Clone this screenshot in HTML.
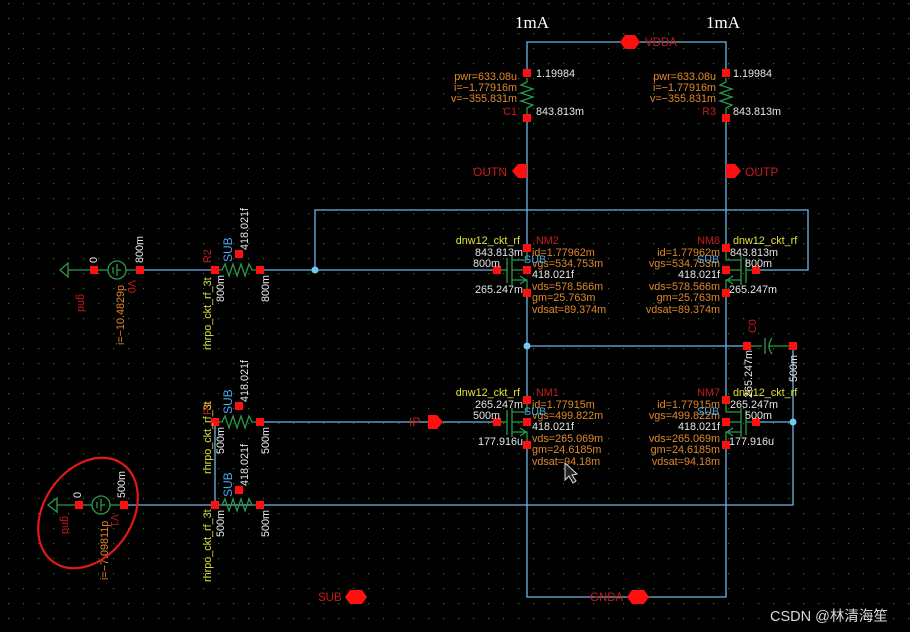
<!DOCTYPE html>
<html><head><meta charset="utf-8"><style>
html,body{margin:0;padding:0;background:#000;}
svg{display:block;}
text{font-family:"Liberation Sans","Noto Sans CJK SC",sans-serif;font-size:10.8px;}
.o{fill:#e0872a}.w{fill:#e6e6e6}.y{fill:#e2e23a}.r{fill:#c81a1a}.b{fill:#4aa6e6}
.big{font-family:"Liberation Serif",serif;font-size:17px;fill:#fff}
</style></head><body>
<svg width="910" height="632" viewBox="0 0 910 632" xmlns="http://www.w3.org/2000/svg">
<defs>
<pattern id="g" x="8" y="3" width="15" height="15" patternUnits="userSpaceOnUse">
<rect x="0" y="0" width="1.2" height="1.2" fill="#1f7a1f"/></pattern>
</defs>
<rect width="910" height="632" fill="#000"/>
<rect width="910" height="632" fill="url(#g)"/>

<g stroke="#6fb4e4" stroke-width="1.3" fill="none">
<polyline points="527,73 527,42 726,42 726,73"/>
<line x1="527" y1="118" x2="527" y2="248"/>
<line x1="726" y1="118" x2="726" y2="248"/>
<line x1="527" y1="293" x2="527" y2="399"/>
<line x1="726" y1="293" x2="726" y2="399"/>
<polyline points="527,445 527,597 726,597 726,445"/>
<polyline points="315,270 315,210 808,210 808,270 756,270"/>
<line x1="140" y1="270" x2="215" y2="270"/>
<line x1="260" y1="270" x2="497" y2="270"/>
<line x1="527" y1="346" x2="747" y2="346"/>
<line x1="260" y1="422" x2="497" y2="422"/>
<polyline points="756,422 793,422"/>
<polyline points="793,346 793,505 124,505"/>
<line x1="215" y1="422" x2="215" y2="505"/>
</g>
<g fill="#6fcaf0"><circle cx="315" cy="270" r="3.5"/><circle cx="527" cy="346" r="3.5"/><circle cx="793" cy="422" r="3.5"/></g>

<g stroke="#2a9a4a" stroke-width="1.3" fill="none">
<polyline points="527,78 527,82 521,85 533,89 521,93 533,97 521,101 533,105 527,108 527,114"/>
<polyline points="726,78 726,82 720,85 732,89 720,93 732,97 720,101 732,105 726,108 726,114"/>
<polyline points="215,270 222,270 225,264 229,276 233,264 237,276 241,264 245,276 249,264 252,270 260,270"/>
<polyline points="215,422 222,422 225,416 229,428 233,416 237,428 241,416 245,428 249,416 252,422 260,422"/>
<polyline points="215,505 222,505 225,499 229,511 233,499 237,511 241,499 245,511 249,499 252,505 260,505"/>
<circle cx="117" cy="270" r="9"/><line x1="94" y1="270" x2="108" y2="270"/><line x1="126" y1="270" x2="140" y2="270"/>
<line x1="113" y1="267" x2="113" y2="273"/><line x1="117" y1="264" x2="117" y2="276"/><line x1="117" y1="270" x2="121" y2="270"/>
<polyline points="94,270 68,270"/><polygon points="68,263 68,277 60,270"/>
<circle cx="101" cy="505" r="9"/><line x1="79" y1="505" x2="92" y2="505"/><line x1="110" y1="505" x2="124" y2="505"/>
<line x1="97" y1="502" x2="97" y2="508"/><line x1="101" y1="499" x2="101" y2="511"/><line x1="101" y1="505" x2="105" y2="505"/>
<polyline points="79,505 57,505"/><polygon points="57,498 57,512 48,505"/>
<line x1="747" y1="346" x2="762" y2="346"/><line x1="765" y1="338" x2="765" y2="354"/>
<path d="M772,338 Q766,346 772,354"/><line x1="769" y1="346" x2="793" y2="346"/>
<g id="t1">
<line x1="497" y1="270" x2="507" y2="270"/><line x1="507" y1="258" x2="507" y2="283"/>
<line x1="512" y1="256" x2="512" y2="285"/>
<polyline points="512,260 527,260 527,248"/><polyline points="512,280 527,280 527,293"/>
<polyline points="520,276 526,280 520,284"/><line x1="512" y1="270" x2="527" y2="270"/>
</g>
<use href="#t1" transform="translate(0,152)"/>
<use href="#t1" transform="translate(1253,0) scale(-1,1)"/>
<use href="#t1" transform="translate(1253,152) scale(-1,1)"/>
</g>

<g fill="#ff1010">
<rect x="523" y="69" width="8" height="8"/><rect x="523" y="114" width="8" height="8"/>
<rect x="722" y="69" width="8" height="8"/><rect x="722" y="114" width="8" height="8"/>
<rect x="523" y="244" width="8" height="8"/><rect x="493" y="266" width="8" height="8"/><rect x="523" y="266" width="8" height="8"/><rect x="523" y="289" width="8" height="8"/>
<rect x="722" y="244" width="8" height="8"/><rect x="752" y="266" width="8" height="8"/><rect x="722" y="266" width="8" height="8"/><rect x="722" y="289" width="8" height="8"/>
<rect x="523" y="396" width="8" height="8"/><rect x="493" y="418" width="8" height="8"/><rect x="523" y="418" width="8" height="8"/><rect x="523" y="441" width="8" height="8"/>
<rect x="722" y="396" width="8" height="8"/><rect x="752" y="418" width="8" height="8"/><rect x="722" y="418" width="8" height="8"/><rect x="722" y="441" width="8" height="8"/>
<rect x="743" y="342" width="8" height="8"/><rect x="789" y="342" width="8" height="8"/>
<rect x="211" y="266" width="8" height="8"/><rect x="256" y="266" width="8" height="8"/><rect x="235" y="250" width="8" height="8"/>
<rect x="211" y="418" width="8" height="8"/><rect x="256" y="418" width="8" height="8"/><rect x="235" y="402" width="8" height="8"/>
<rect x="211" y="501" width="8" height="8"/><rect x="256" y="501" width="8" height="8"/><rect x="235" y="486" width="8" height="8"/>
<rect x="90" y="266" width="8" height="8"/><rect x="136" y="266" width="8" height="8"/>
<rect x="75" y="501" width="8" height="8"/><rect x="120" y="501" width="8" height="8"/>
<polygon points="620,42 625,35 635,35 640,42 635,49 625,49"/>
<polygon points="512,171 518,164 527,164 527,178 518,178"/>
<polygon points="726,164 735,164 741,171 735,178 726,178"/>
<polygon points="428,415 437,415 443,422 437,429 428,429"/>
<polygon points="345,597 350,590 362,590 367,597 362,604 350,604"/>
<polygon points="627,597 632,590 644,590 649,597 644,604 632,604"/>
</g>

<text x="515" y="28" class="big">1mA</text><text x="706" y="28" class="big">1mA</text>
<text x="645" y="46" class="r" style="font-size:11.5px">VDDA</text>
<text x="473" y="176" class="r" style="font-size:12px">OUTN</text>
<text x="745" y="176" class="r" style="font-size:12px">OUTP</text>
<text x="409" y="426" class="r" style="font-size:12px">IP</text>
<text x="318" y="601" class="r" style="font-size:11.5px">SUB</text>
<text x="590" y="601" class="r" style="font-size:11.5px">GNDA</text>

<g text-anchor="end">
<text x="517" y="80" class="o">pwr=633.08u</text><text x="517" y="91" class="o">i=−1.77916m</text><text x="517" y="102" class="o">v=−355.831m</text><text x="517" y="115" class="r">C1</text>
<text x="716" y="80" class="o">pwr=633.08u</text><text x="716" y="91" class="o">i=−1.77916m</text><text x="716" y="102" class="o">v=−355.831m</text><text x="716" y="115" class="r">R3</text>
</g>
<text x="536" y="77" class="w">1.19984</text><text x="536" y="115" class="w">843.813m</text>
<text x="733" y="77" class="w">1.19984</text><text x="733" y="115" class="w">843.813m</text>

<g text-anchor="end">
<text x="520" y="244" class="y">dnw12_ckt_rf</text><text x="523" y="256" class="w">843.813m</text><text x="500" y="267" class="w">800m</text><text x="523" y="293" class="w">265.247m</text>
<text x="720" y="244" class="r">NM8</text><text x="720" y="256" class="o">id=1.77962m</text><text x="720" y="267" class="o">vgs=534.753m</text><text x="720" y="278" class="w">418.021f</text><text x="720" y="290" class="o">vds=578.566m</text><text x="720" y="301" class="o">gm=25.763m</text><text x="720" y="313" class="o">vdsat=89.374m</text>
<text x="520" y="396" class="y">dnw12_ckt_rf</text><text x="523" y="408" class="w">265.247m</text><text x="500" y="419" class="w">500m</text><text x="523" y="445" class="w">177.916u</text>
<text x="720" y="396" class="r">NM7</text><text x="720" y="408" class="o">id=1.77915m</text><text x="720" y="419" class="o">vgs=499.822m</text><text x="720" y="430" class="w">418.021f</text><text x="720" y="442" class="o">vds=265.069m</text><text x="720" y="453" class="o">gm=24.6185m</text><text x="720" y="465" class="o">vdsat=94.18m</text>
</g>
<text x="536" y="244" class="r">NM2</text><text x="532" y="256" class="o">id=1.77962m</text><text x="532" y="267" class="o">vgs=534.753m</text><text x="532" y="278" class="w">418.021f</text><text x="532" y="290" class="o">vds=578.566m</text><text x="532" y="301" class="o">gm=25.763m</text><text x="532" y="313" class="o">vdsat=89.374m</text>
<text x="524" y="263" class="b">SUB</text><text x="697" y="263" class="b">SUB</text>
<text x="733" y="244" class="y">dnw12_ckt_rf</text><text x="730" y="256" class="w">843.813m</text><text x="745" y="267" class="w">800m</text><text x="729" y="293" class="w">265.247m</text>
<text x="536" y="396" class="r">NM1</text><text x="532" y="408" class="o">id=1.77915m</text><text x="532" y="419" class="o">vgs=499.822m</text><text x="532" y="430" class="w">418.021f</text><text x="532" y="442" class="o">vds=265.069m</text><text x="532" y="453" class="o">gm=24.6185m</text><text x="532" y="465" class="o">vdsat=94.18m</text>
<text x="524" y="415" class="b">SUB</text><text x="697" y="415" class="b">SUB</text>
<text x="733" y="396" class="y">dnw12_ckt_rf</text><text x="730" y="408" class="w">265.247m</text><text x="745" y="419" class="w">500m</text><text x="729" y="445" class="w">177.916u</text>

<g>
<text transform="translate(756,333) rotate(-90)" class="r">C0</text>
<text transform="translate(752,398) rotate(-90)" class="w">265.247m</text>
<text transform="translate(797,382) rotate(-90)" class="w">500m</text>
<text transform="translate(211,263) rotate(-90)" class="r">R2</text>
<text transform="translate(232,262) rotate(-90)" class="b" style="font-size:12px">SUB</text>
<text transform="translate(248,250) rotate(-90)" class="w">418.021f</text>
<text transform="translate(224,302) rotate(-90)" class="w">800m</text>
<text transform="translate(269,302) rotate(-90)" class="w">800m</text>
<text transform="translate(211,350) rotate(-90)" class="y">rhrpo_ckt_rf_3t</text>
<text transform="translate(211,415) rotate(-90)" class="r">R1</text>
<text transform="translate(232,414) rotate(-90)" class="b" style="font-size:12px">SUB</text>
<text transform="translate(248,402) rotate(-90)" class="w">418.021f</text>
<text transform="translate(224,454) rotate(-90)" class="w">500m</text>
<text transform="translate(269,454) rotate(-90)" class="w">500m</text>
<text transform="translate(211,474) rotate(-90)" class="y">rhrpo_ckt_rf_3t</text>
<text transform="translate(232,497) rotate(-90)" class="b" style="font-size:12px">SUB</text>
<text transform="translate(248,486) rotate(-90)" class="w">418.021f</text>
<text transform="translate(224,537) rotate(-90)" class="w">500m</text>
<text transform="translate(269,537) rotate(-90)" class="w">500m</text>
<text transform="translate(211,582) rotate(-90)" class="y">rhrpo_ckt_rf_3t</text>
<text transform="translate(97,263) rotate(-90)" class="w">0</text>
<text transform="translate(143,263) rotate(-90)" class="w">800m</text>
<text transform="translate(78,294) rotate(90)" class="r">gnd</text>
<text transform="translate(128,280) rotate(90)" class="r">V0</text>
<text transform="translate(124,345) rotate(-90)" class="o">i=−10.4829p</text>
<text transform="translate(81,498) rotate(-90)" class="w">0</text>
<text transform="translate(125,498) rotate(-90)" class="w">500m</text>
<text transform="translate(62,516) rotate(90)" class="r">gnd</text>
<text transform="translate(111,514) rotate(90)" class="r">V1</text>
<text transform="translate(108,580) rotate(-90)" class="o">i=−7.09811p</text>
</g>

<polygon points="565,463 565,480 569,476 573,483 576,481 572,475 577,474" fill="#222" stroke="#ddd" stroke-width="1"/>

<ellipse cx="88" cy="513" rx="60" ry="44" transform="rotate(-55 88 513)" fill="none" stroke="#e01818" stroke-width="2.2"/>

<text x="770" y="621" fill="#d8d8d8" style="font-size:14.5px;font-family:'Liberation Sans','Noto Sans CJK SC',sans-serif">CSDN @林清海笙</text>
</svg>
</body></html>
